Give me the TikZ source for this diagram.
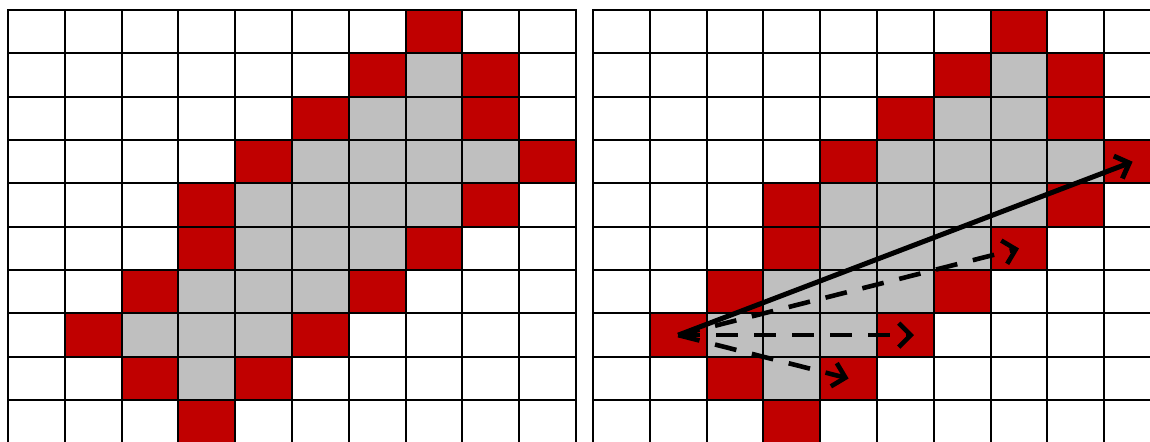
\documentclass[tikz,border=0pt]{standalone}
\usepackage{xcolor}
\usepackage{tikz}
\usetikzlibrary{arrows.meta}
\definecolor{cellred}{HTML}{C00000}
\definecolor{cellgrey}{HTML}{BFBFBF}
\tikzset{
  gridln/.style={draw=black, line width=1pt, line cap=rect},
  redcell/.style={fill=cellred},
  greycell/.style={fill=cellgrey},
  vec/.style={-{Straight Barb[length=6pt,width=12pt]}, line width=2.5pt, draw=black},
  dvec/.style={vec, line width=2.3pt, dash pattern=on 11pt off 8pt},
}
\newcommand{\blobcells}{%
  % edge cells
  \foreach \r/\c in {0/7,1/6,1/8,2/5,2/8,3/4,3/9,4/3,4/8,5/3,5/7,6/2,6/6,7/1,7/5,8/2,8/4,9/3}
    \fill[redcell] (\c,\r) rectangle ++(1,1);
  % inner cells
  \foreach \r/\c in {1/7,2/6,2/7,3/5,3/6,3/7,3/8,4/4,4/5,4/6,4/7,5/4,5/5,5/6,6/3,6/4,6/5,7/2,7/3,7/4,8/3}
    \fill[greycell] (\c,\r) rectangle ++(1,1);
  % grid lines
  \foreach \i in {0,...,10} {
    \draw[gridln] (\i,0) -- (\i,10);
    \draw[gridln] (0,\i) -- (10,\i);
  }
}

\begin{document}
\begin{tikzpicture}[x=0.5pt,y=-0.5pt]
  \useasboundingbox (0,0) rectangle (1150,441);
  \clip (0,0) rectangle (1150,441);

  % left grid
  \begin{scope}[shift={(8,10)}, x=28.4pt, y=-21.675pt]
    \blobcells
  \end{scope}

  % right grid with vectors
  \begin{scope}[shift={(593,10)}, x=28.4pt, y=-21.675pt]
    \blobcells
    \coordinate (src) at (1.5,7.5);
    \coordinate (far) at (9.5,3.5);
    \coordinate (upper) at (7.5,5.5);
    \coordinate (mid) at (5.65,7.5);
    \coordinate (low) at (4.5,8.5);
    \draw[vec] (src) -- (far);
    \draw[dvec] (src) -- (upper);
    \draw[dvec] (src) -- (mid);
    \draw[dvec] (src) -- (low);
  \end{scope}
\end{tikzpicture}
\end{document}
